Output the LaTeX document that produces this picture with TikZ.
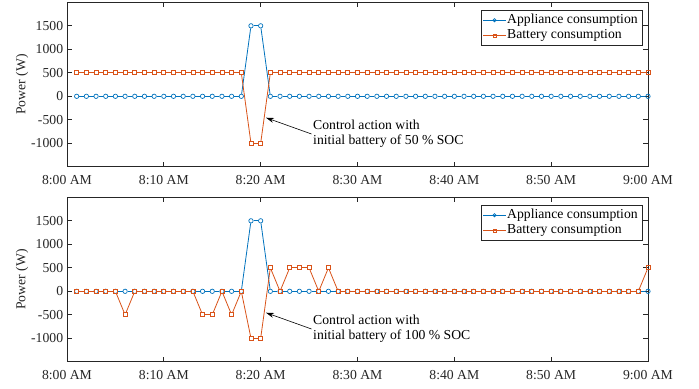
\documentclass[tikz,border=0pt]{standalone}
\usepackage{fontspec}
\setmainfont{Liberation Serif}
\usetikzlibrary{arrows.meta}
\definecolor{appblue}{rgb}{0,0.447,0.741}
\definecolor{batorange}{rgb}{0.85,0.325,0.098}
\definecolor{axisgray}{rgb}{0.15,0.15,0.15}
\tikzstyle{frame}=[draw=axisgray, line width=0.8bp]
\tikzstyle{appline}=[draw=appblue, line width=0.8bp]
\tikzstyle{batline}=[draw=batorange, line width=0.8bp]
\tikzstyle{appmark}=[circle, draw=appblue, line width=0.7bp, inner sep=0pt, minimum size=4.4bp]
\tikzstyle{batmark}=[rectangle, draw=batorange, line width=0.7bp, inner sep=0pt, minimum size=4bp]
\tikzstyle{ticklab}=[text=axisgray, inner sep=0pt]
\tikzstyle{legbox}=[draw=axisgray, fill=white, line width=0.8bp]
\tikzstyle{legtext}=[anchor=west, inner sep=0pt]
\tikzstyle{note}=[align=left, inner sep=1.5bp, anchor=west]
% one value per minute, 8:01 ... 9:00
\def\appdata{0,0,0,0,0,0,0,0,0,0,0,0,0,0,0,0,0,0,1500,1500,0,0,0,0,0,0,0,0,0,0,0,0,0,0,0,0,0,0,0,0,0,0,0,0,0,0,0,0,0,0,0,0,0,0,0,0,0,0,0,0}
\def\batdatat{500,500,500,500,500,500,500,500,500,500,500,500,500,500,500,500,500,500,-1000,-1000,500,500,500,500,500,500,500,500,500,500,500,500,500,500,500,500,500,500,500,500,500,500,500,500,500,500,500,500,500,500,500,500,500,500,500,500,500,500,500,500}
\def\batdatab{0,0,0,0,0,-500,0,0,0,0,0,0,0,-500,-500,0,-500,0,-1000,-1000,500,0,500,500,500,0,500,0,0,0,0,0,0,0,0,0,0,0,0,0,0,0,0,0,0,0,0,0,0,0,0,0,0,0,0,0,0,0,0,500}

\begin{document}
\begin{tikzpicture}[x=1bp, y=-1bp, font=\fontsize{13.7bp}{15bp}\selectfont]
\useasboundingbox (0,0) rectangle (699,388);

\foreach \p/\off/\soc in {t/0/50, b/195/100} {
\begin{scope}[shift={(0,\off)}]
  \edef\batlist{\csname batdata\p\endcsname}
  \begin{scope}[shift={(67,96.3)}, x=9.683bp, y=0.047bp]
    \draw[frame] (0,-1500) rectangle (60,2000);
    \foreach \t/\lab in {0/8:00 AM, 10/8:10 AM, 20/8:20 AM, 30/8:30 AM, 40/8:40 AM, 50/8:50 AM, 60/9:00 AM} {
      \draw[frame] (\t,-1500) -- ++(0,5bp);
      \draw[frame] (\t,2000) -- ++(0,-5bp);
      \node[ticklab] (\p x\t) at ([yshift=-13.7bp]\t,-1500) {\lab};
    }
    \foreach \v [count=\i] in {-1000,-500,0,500,1000,1500} {
      \draw[frame] (0,\v) -- ++(5bp,0);
      \draw[frame] (60,\v) -- ++(-5bp,0);
      \node[ticklab, anchor=east] (\p y\i) at ([xshift=-3.7bp]0,\v) {\v};
    }
    \node[ticklab, rotate=90] (\p ylab) at ([xshift=-45bp]0,250) {Power (W)};
    % appliance, then battery on top
    \foreach \v [count=\m] in \appdata \node[appmark] (\p a\m) at (\m,\v) {};
    \foreach \m [remember=\m as \n (initially 1)] in {2,...,60} \draw[appline] (\p a\n) -- (\p a\m);
    \foreach \v [count=\m] in \batlist \node[batmark] (\p b\m) at (\m,\v) {};
    \foreach \m [remember=\m as \n (initially 1)] in {2,...,60} \draw[batline] (\p b\n) -- (\p b\m);
  \end{scope}
  % legend
  \draw[legbox] (481,10) rectangle (642,45);
  \coordinate (\p la1) at (483,20.3);
  \coordinate (\p la2) at (506,20.3);
  \draw[appline] (\p la1) -- (\p la2);
  \node[appmark, minimum size=3.2bp] (\p lam) at (494.5,20.3) {};
  \node[legtext] (\p lat) at (507,20.3) {Appliance consumption};
  \coordinate (\p lb1) at (483,35.5);
  \coordinate (\p lb2) at (506,35.5);
  \draw[batline] (\p lb1) -- (\p lb2);
  \node[batmark, minimum size=3bp] (\p lbm) at (494.5,35.5) {};
  \node[legtext] (\p lbt) at (507,35.5) {Battery consumption};
  % annotation
  \node[note] (\p note) at (311.5,134) {Control action with\\initial battery of \soc{} \% SOC};
  \coordinate (\p tip) at (266,117.7);
  \draw[-{Stealth[length=8bp,width=5bp]}, line width=0.6bp] (\p note.west) -- (\p tip);
\end{scope}
}
\end{tikzpicture}
\end{document}
